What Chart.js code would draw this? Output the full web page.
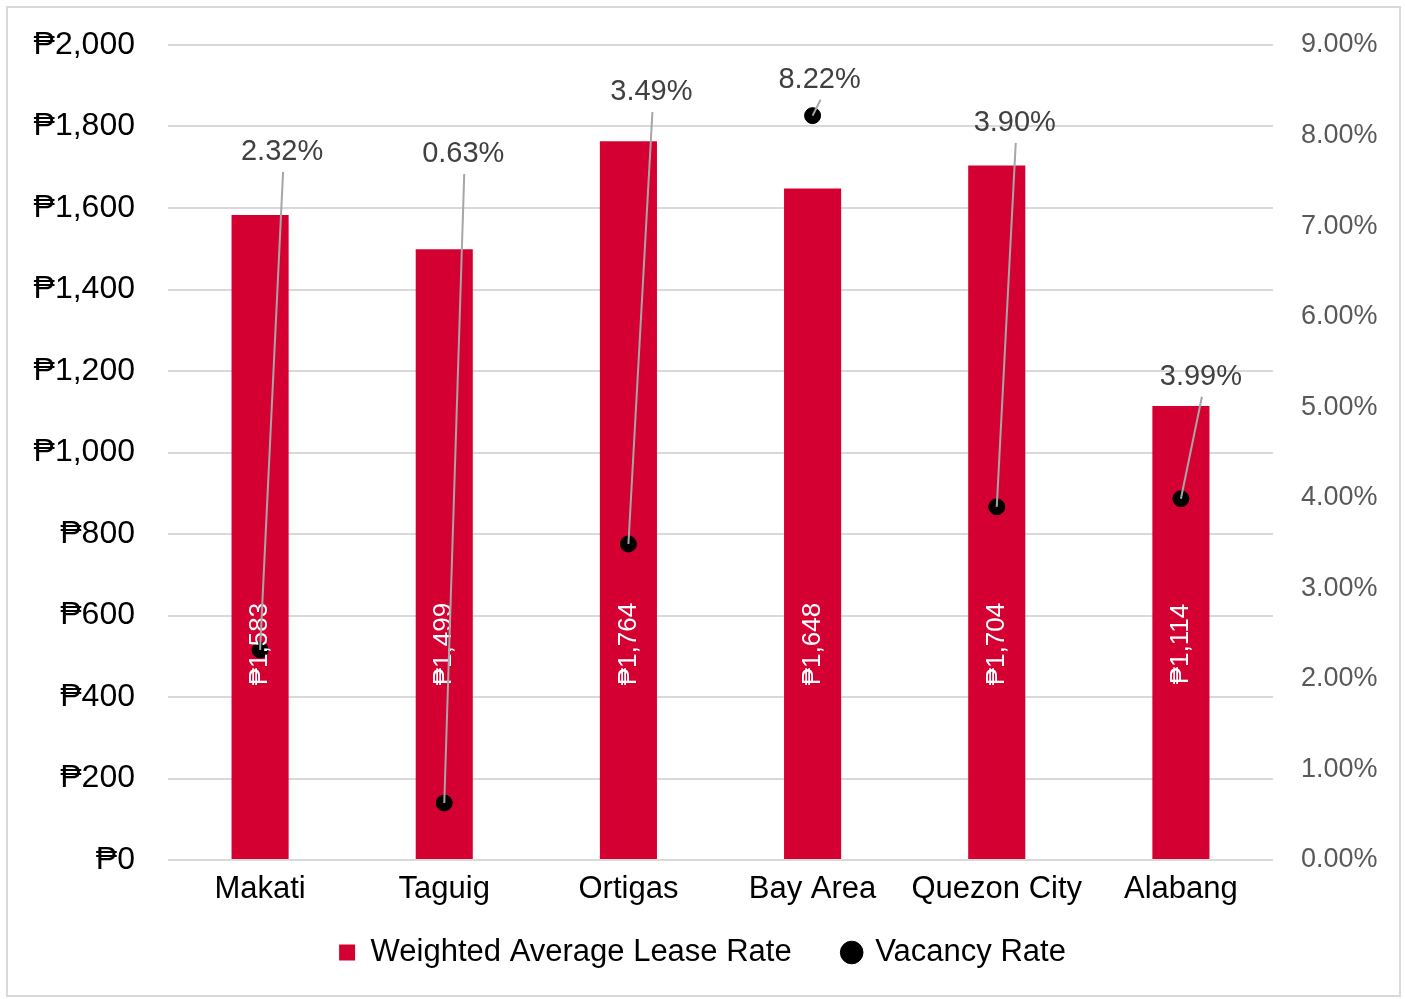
<!DOCTYPE html>
<html>
<head>
<meta charset="utf-8">
<script src="https://cdn.jsdelivr.net/npm/chart.js@4.4.1/dist/chart.umd.min.js"></script>
<style>
  html, body { margin: 0; padding: 0; background: #fff; }
  #wrap { width: 1405px; height: 999px; }
</style>
</head>
<body>
<div id="wrap"><canvas id="chart" width="1405" height="999"></canvas></div>
<script>
// data
const categories = ['Makati', 'Taguig', 'Ortigas', 'Bay Area', 'Quezon City', 'Alabang'];
const leaseRates = [1583, 1499, 1764, 1648, 1704, 1114];
const vacancyRates = [2.32, 0.63, 3.49, 8.22, 3.90, 3.99];

// where the % labels sit, relative to their point (px)
const labelOffsets = [[22, -498], [19, -649], [23, -452], [7, -36], [18, -384], [20, -122]];

const FONT = "'Liberation Sans', Arial, 'DejaVu Sans', sans-serif";
const RED = '#D50032';
const CLEAR = 'rgba(0,0,0,0)';

const peso = v => '\u20B1' + Number(v).toLocaleString('en-US');

const frame = {
    id: 'frame',
    beforeDraw(chart) {
        const c = chart.ctx;
        c.save();
        c.fillStyle = '#fff';
        c.fillRect(0, 0, chart.width, chart.height);
        c.strokeStyle = '#D9D9D9';
        c.lineWidth = 2;
        c.strokeRect(7, 7, 1393, 989);
        c.restore();
    }
};

const labels = {
    id: 'labels',
    afterDatasetsDraw(chart) {
        const c = chart.ctx;
        const y = chart.scales.y;
        c.save();
        // bar values, rotated, white
        c.font = '26px ' + FONT;
        c.fillStyle = '#fff';
        c.textAlign = 'center';
        c.textBaseline = 'middle';
        chart.getDatasetMeta(0).data.forEach((bar, i) => {
            c.save();
            c.translate(bar.x, y.getPixelForValue(530));
            c.rotate(-Math.PI / 2);
            c.fillText(peso(leaseRates[i]), 0, 0);
            c.restore();
        });
        // vacancy labels with leader lines
        c.font = '29px ' + FONT;
        c.fillStyle = '#404040';
        c.strokeStyle = '#A6A6A6';
        c.lineWidth = 2;
        chart.getDatasetMeta(1).data.forEach((pt, i) => {
            const lx = pt.x + labelOffsets[i][0];
            const ly = pt.y + labelOffsets[i][1];
            c.beginPath();
            c.moveTo(lx + 1, ly + 20);
            c.lineTo(pt.x, pt.y);
            c.stroke();
            c.fillText(vacancyRates[i].toFixed(2) + '%', lx, ly);
        });
        c.restore();
    }
};

new Chart(document.getElementById('chart').getContext('2d'), {
    data: {
        labels: categories,
        datasets: [
            {
                type: 'bar', label: 'Weighted Average Lease Rate', data: leaseRates,
                backgroundColor: RED, yAxisID: 'y', order: 2, pointStyle: 'rect',
                barPercentage: 0.31, categoryPercentage: 1
            },
            {
                type: 'line', label: 'Vacancy Rate', data: vacancyRates,
                showLine: false, yAxisID: 'y2', order: 1, pointStyle: 'circle',
                pointRadius: 8, pointBackgroundColor: '#000', pointBorderColor: '#000',
                backgroundColor: '#000', borderColor: '#000'
            }
        ]
    },
    options: {
        responsive: false, animation: false,
        layout: { padding: { top: 45, left: 0, right: 0, bottom: 21 } },
        scales: {
            x: {
                grid: { display: false }, border: { display: false },
                // mirror only so the labels are not clipped to the short axis box
                ticks: { mirror: true, color: '#000', font: { family: FONT, size: 31 }, padding: -48 },
                afterFit: s => { s.height = 25; }
            },
            y: {
                position: 'left', min: 0, max: 2000,
                // invisible tick marks give the label gap (ticks.padding would also pad the top)
                grid: { color: '#D9D9D9', lineWidth: 2, drawTicks: true, tickLength: 33, tickColor: CLEAR },
                border: { display: false },
                ticks: { stepSize: 200, color: '#000', padding: 0, font: { family: FONT, size: 32 }, callback: v => peso(v) },
                afterFit: s => { s.width = 168; }
            },
            y2: {
                position: 'right', min: 0, max: 9,
                grid: { drawOnChartArea: false, drawTicks: true, tickLength: 28, tickColor: CLEAR, color: CLEAR },
                border: { display: false },
                ticks: { stepSize: 1, color: '#595959', padding: 0, font: { family: FONT, size: 27 }, callback: v => v.toFixed(2) + '%' },
                afterFit: s => { s.width = 132; }
            }
        },
        plugins: {
            tooltip: { enabled: false },
            legend: {
                position: 'bottom',
                labels: {
                    usePointStyle: true, boxWidth: 16, boxHeight: 16, padding: 52, color: '#000',
                    font: { family: FONT, size: 31 },
                    sort: (a, b) => a.datasetIndex - b.datasetIndex
                }
            }
        }
    },
    plugins: [frame, labels]
});
</script>
</body>
</html>
